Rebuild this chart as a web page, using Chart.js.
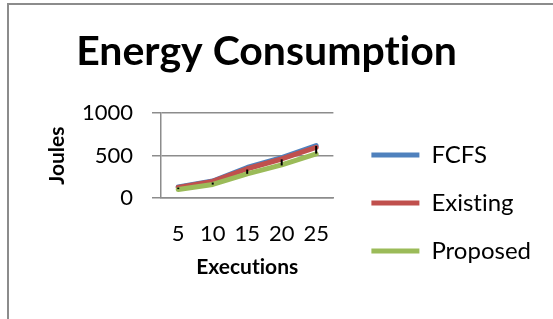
<!DOCTYPE html>
<html>
<head>
<meta charset="utf-8">
<script src="https://cdn.jsdelivr.net/npm/chart.js@4/dist/chart.umd.min.js"></script>
<style>
 html, body { margin: 0; padding: 0; background: #fff; }
 body { width: 553px; height: 319px; position: relative; overflow: hidden; }
 #frame { position: absolute; left: 7px; top: 3px; width: 560px; height: 330px; border-left: 2px solid #8c8c8c; border-top: 2px solid #8c8c8c; }
 #chart { position: absolute; left: 0; top: 0; }
</style>
</head>
<body>
<div id="frame"></div>
<canvas id="chart" width="553" height="319"></canvas>
<script>
const executions = ["5", "10", "15", "20", "25"];
const fcfs = [130, 200, 360, 475, 618];
const existing = [125, 195, 345, 460, 598];
const proposed = [100, 160, 285, 390, 520];
// small black bars seen at each point
const errHigh = [123, 182, 336, 456, 614];
const errLow = [105, 158, 285, 384, 524];
const yMin = 0, yMax = 1000, yStep = 500;

const font = "Lato, 'Open Sans', sans-serif";

const errorBars = {
 id: "errorBars",
 beforeDraw(chart) {
 // no "ti" ligature, the original font has none
 chart.ctx.textRendering = "optimizeSpeed";
 },
 afterDatasetsDraw(chart) {
 const ctx = chart.ctx;
 const x = chart.scales.x, y = chart.scales.y;
 ctx.save();
 ctx.strokeStyle = "#000";
 ctx.lineWidth = 2;
 errHigh.forEach((h, i) => {
 const px = x.getPixelForValue(i);
 ctx.beginPath();
 ctx.moveTo(px, y.getPixelForValue(h));
 ctx.lineTo(px, y.getPixelForValue(errLow[i]));
 ctx.stroke();
 });
 ctx.restore();
 }
};

// nudge the legend a bit further from the plot, like the original
const legendShift = {
 id: "legendShift",
 afterLayout(chart) {
 chart.legend.left += 14;
 chart.legend.right += 14;
 }
};

function line(label, data, color, order) {
 return {
 label, data, order,
 borderColor: color,
 backgroundColor: color,
 borderWidth: 5,
 borderCapStyle: "round",
 borderJoinStyle: "round",
 pointRadius: 0,
 tension: 0
 };
}

new Chart(document.getElementById("chart").getContext("2d"), {
 type: "line",
 data: {
 labels: executions,
 datasets: [
 line("FCFS", fcfs, "#4f81bd", 3),
 line("Existing", existing, "#c0504d", 2),
 line("Proposed", proposed, "#9bbb59", 1)
 ]
 },
 options: {
 responsive: false,
 animation: false,
 layout: { padding: { left: 6, right: 26, top: 0, bottom: 32 } },
 plugins: {
 title: {
 display: true,
 text: "Energy Consumption",
 color: "#000",
 font: { family: font, size: 41, weight: "bold", lineHeight: 1.2 },
 padding: { top: 27, bottom: 37 }
 },
 legend: {
 position: "right",
 align: "end",
 reverse: true,
 maxWidth: 300,
 labels: {
 color: "#000",
 font: { family: font, size: 24 },
 usePointStyle: true,
 pointStyle: "line",
 pointStyleWidth: 48,
 boxHeight: 24,
 padding: 24
 }
 },
 tooltip: { enabled: false }
 },
 scales: {
 x: {
 offset: true,
 grid: { display: false, drawTicks: false },
 border: { display: true, color: "#8c8c8c", width: 1.5 },
 ticks: { color: "#000", font: { family: font, size: 22 }, padding: 23, maxRotation: 0 },
 title: {
 display: true,
 text: "Executions",
 color: "#000",
 font: { family: font, size: 21, weight: "bold", lineHeight: 1.2 },
 padding: { top: 0, bottom: 7 }
 },
 afterFit(s) { s.height = 89; }
 },
 y: {
 min: yMin,
 max: yMax,
 grid: { color: "#8c8c8c", lineWidth: 1.5, tickLength: 9 },
 border: { color: "#8c8c8c", width: 1.5 },
 ticks: { stepSize: yStep, color: "#000", font: { family: font, size: 22 }, padding: 19, callback: v => String(v) },
 title: {
 display: true,
 text: "Joules",
 color: "#000",
 font: { family: font, size: 21, weight: "bold", lineHeight: 1.2 },
 padding: { top: 39, bottom: 0 }
 },
 afterFit(s) { s.width = 155; }
 }
 }
 },
 plugins: [errorBars, legendShift]
});
</script>
</body>
</html>
